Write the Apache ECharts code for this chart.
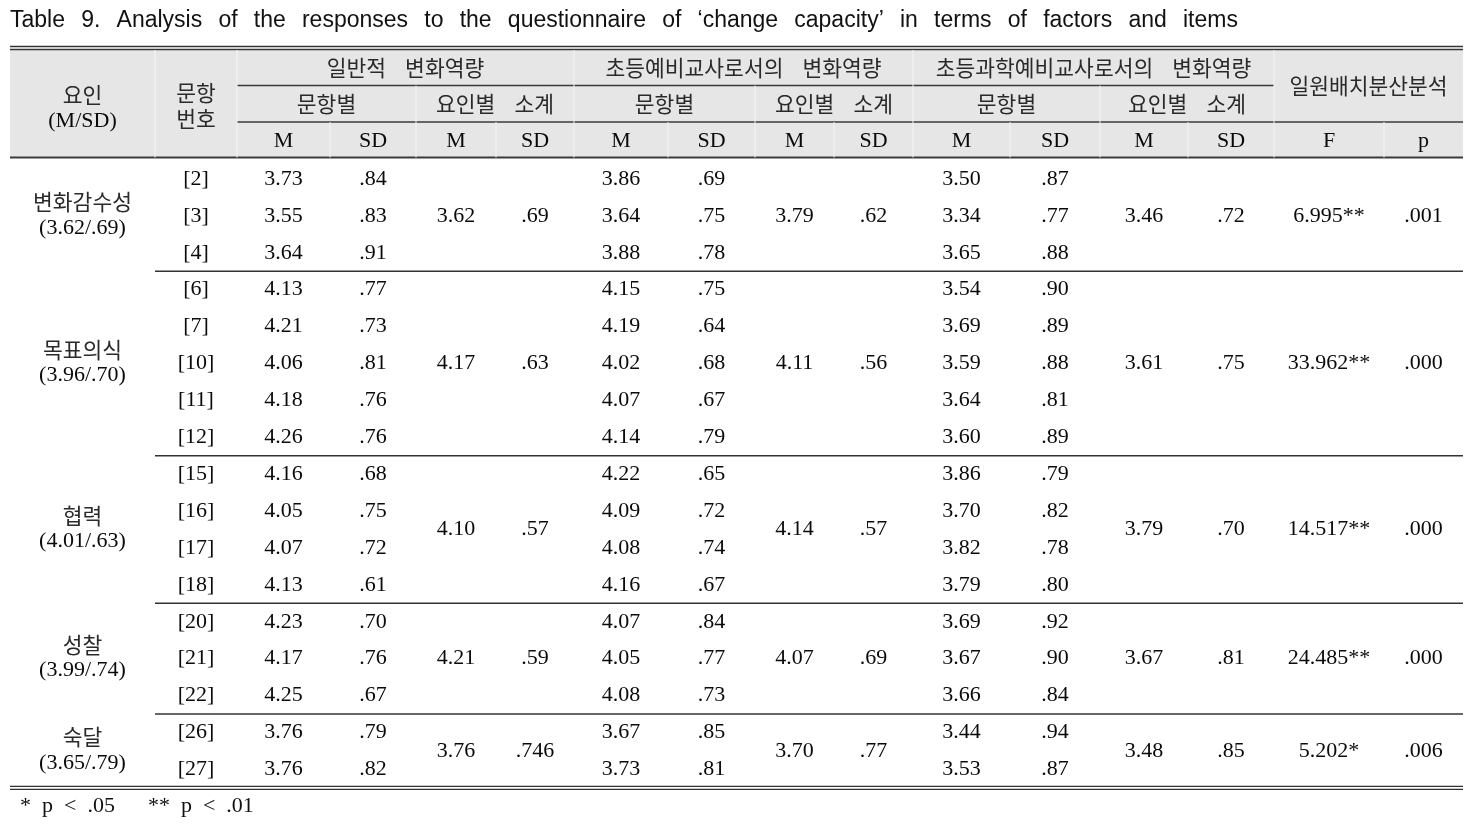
<!DOCTYPE html>
<html><head><meta charset="utf-8">
<script src="https://cdn.jsdelivr.net/npm/echarts@6/dist/echarts.min.js"></script>
<style>html,body{margin:0;padding:0;background:#fff}#c{width:1483px;height:826px}</style>
</head><body><div id="c"></div>
<script>
// ---------------- DATA ----------------
const titleText = 'Table 9. Analysis of the responses to the questionnaire of ‘change capacity’ in terms of factors and items';
const footnote = '*  p  <  .05      **  p  <  .01';
const factors = ['변화감수성', '목표의식', '협력', '성찰', '숙달'];
const factorStats = ['(3.62/.69)', '(3.96/.70)', '(4.01/.63)', '(3.99/.74)', '(3.65/.79)'];
const groupSize = [3, 5, 4, 3, 2];
const itemNo = ['[2]','[3]','[4]','[6]','[7]','[10]','[11]','[12]','[15]','[16]','[17]','[18]','[20]','[21]','[22]','[26]','[27]'];
const genM  = ['3.73','3.55','3.64','4.13','4.21','4.06','4.18','4.26','4.16','4.05','4.07','4.13','4.23','4.17','4.25','3.76','3.76'];
const genSD = ['.84','.83','.91','.77','.73','.81','.76','.76','.68','.75','.72','.61','.70','.76','.67','.79','.82'];
const genSubM  = ['3.62','4.17','4.10','4.21','3.76'];
const genSubSD = ['.69','.63','.57','.59','.746'];
const preM  = ['3.86','3.64','3.88','4.15','4.19','4.02','4.07','4.14','4.22','4.09','4.08','4.16','4.07','4.05','4.08','3.67','3.73'];
const preSD = ['.69','.75','.78','.75','.64','.68','.67','.79','.65','.72','.74','.67','.84','.77','.73','.85','.81'];
const preSubM  = ['3.79','4.11','4.14','4.07','3.70'];
const preSubSD = ['.62','.56','.57','.69','.77'];
const sciM  = ['3.50','3.34','3.65','3.54','3.69','3.59','3.64','3.60','3.86','3.70','3.82','3.79','3.69','3.67','3.66','3.44','3.53'];
const sciSD = ['.87','.77','.88','.90','.89','.88','.81','.89','.79','.82','.78','.80','.92','.90','.84','.94','.87'];
const sciSubM  = ['3.46','3.61','3.79','3.67','3.48'];
const sciSubSD = ['.72','.75','.70','.81','.85'];
const anovaF = ['6.995**','33.962**','14.517**','24.485**','5.202*'];
const anovaP = ['.001','.000','.000','.000','.006'];
// header labels
const hdrFactor = ['요인', '(M/SD)'];
const hdrItem = ['문항', '번호'];
const hdrGroups = ['일반적 변화역량', '초등예비교사로서의 변화역량', '초등과학예비교사로서의 변화역량'];
const hdrAnova = '일원배치분산분석';
const hdrSub = ['문항별', '요인별 소계'];
const hdrStat = ['M', 'SD'];
const hdrFp = ['F', 'p'];

// ---------------- LAYOUT ----------------
const W = 1483, H = 826;
const colEdges = [10,155,237,330,416,496,574,668,755,834,913,1010,1100,1188,1274,1384,1463];
const hdrY = [50, 85.5, 122, 157.5];
const bodyTop = 160.5, rowH = 36.9;
const rowY = i => bodyTop + rowH * i;
const fSerif = '"Liberation Serif","Times New Roman",serif';
const fKr = '"Noto Sans CJK KR","Noto Sans CJK SC",sans-serif';
const fSans = '"Liberation Sans",Arial,sans-serif';
const numSize = 22, krSize = 21.5;
const ink = '#0a0a0a', krInk = '#2a2a2a';
const spaced = t => t.split(' ').join('{g| }');

const cells = [];
function cell(c0, c1, y0, y1, text, kind, dy) {
  cells.push({x: (colEdges[c0] + colEdges[c1]) / 2, y: (y0 + y1) / 2 + (dy || 0), text, kind});
}
// header
cell(0, 1, hdrY[0], hdrY[3], `{k|${hdrFactor[0]}}\n{n|${hdrFactor[1]}}`, 'rich', 4);
cell(1, 2, hdrY[0], hdrY[3], `{k|${hdrItem[0]}}\n{k|${hdrItem[1]}}`, 'rich', 2);
hdrGroups.forEach((g, gi) => {
  const base = 2 + gi * 4;
  cell(base, base + 4, hdrY[0], hdrY[1], g, 'kr');
  hdrSub.forEach((s, si) => {
    cell(base + si * 2, base + si * 2 + 2, hdrY[1], hdrY[2], s, 'kr');
    hdrStat.forEach((m, mi) => cell(base + si * 2 + mi, base + si * 2 + mi + 1, hdrY[2], hdrY[3], m, 'num', 1));
  });
});
cell(14, 16, hdrY[0], hdrY[2], hdrAnova, 'kr');
hdrFp.forEach((t, i) => cell(14 + i, 15 + i, hdrY[2], hdrY[3], t, 'num', 1));
// body
let r = 0;
const groupStarts = [];
factors.forEach((f, g) => {
  const s = r, e = r + groupSize[g];
  groupStarts.push(s);
  cell(0, 1, rowY(s), rowY(e), `{k|${f}}\n{n|${factorStats[g]}}`, 'rich', -1);
  for (let i = s; i < e; i++) {
    cell(1, 2, rowY(i), rowY(i + 1), itemNo[i], 'num');
    cell(2, 3, rowY(i), rowY(i + 1), genM[i], 'num');
    cell(3, 4, rowY(i), rowY(i + 1), genSD[i], 'num');
    cell(6, 7, rowY(i), rowY(i + 1), preM[i], 'num');
    cell(7, 8, rowY(i), rowY(i + 1), preSD[i], 'num');
    cell(10, 11, rowY(i), rowY(i + 1), sciM[i], 'num');
    cell(11, 12, rowY(i), rowY(i + 1), sciSD[i], 'num');
  }
  [[4, genSubM], [5, genSubSD], [8, preSubM], [9, preSubSD], [12, sciSubM], [13, sciSubSD], [14, anovaF], [15, anovaP]]
    .forEach(([c, arr]) => cell(c, c + 1, rowY(s), rowY(e), arr[g], 'num'));
  r = e;
});
const nRows = r;

// lines [x0,y0,x1,y1,color,width]
const L = colEdges[0], R = colEdges[colEdges.length - 1];
const lines = [];
lines.push([L, 46.5, R, 46.5, '#333', 1.3]);
lines.push([L, 49.5, R, 49.5, '#333', 1.3]);
lines.push([colEdges[2], hdrY[1], colEdges[14], hdrY[1], '#3a3a3a', 1.5]);
lines.push([colEdges[2], hdrY[2], R, hdrY[2], '#3a3a3a', 1.5]);
lines.push([L, hdrY[3], R, hdrY[3], '#3a3a3a', 1.8]);
[1, 2, 6, 10, 14].forEach(c => lines.push([colEdges[c], hdrY[0], colEdges[c], hdrY[3], '#f4f4f4', 1]));
[4, 8, 12].forEach(c => lines.push([colEdges[c], hdrY[1], colEdges[c], hdrY[3], '#f4f4f4', 1]));
[3, 5, 7, 9, 11, 13, 15].forEach(c => lines.push([colEdges[c], hdrY[2], colEdges[c], hdrY[3], '#f4f4f4', 1]));
groupStarts.slice(1).forEach(s => lines.push([colEdges[1], rowY(s), R, rowY(s), '#333', 1.5]));
const bottom = rowY(nRows);
lines.push([L, bottom - 1.5, R, bottom - 1.5, '#333', 1.3]);
lines.push([L, bottom + 1.5, R, bottom + 1.5, '#333', 1.3]);

const chart = echarts.init(document.getElementById('c'), null, {renderer: 'canvas'});
chart.setOption({
  animation: false,
  backgroundColor: '#fff',
  grid: {left: 0, right: 0, top: 0, bottom: 0},
  xAxis: {type: 'value', min: 0, max: W, show: false},
  yAxis: {type: 'value', min: 0, max: H, inverse: true, show: false},
  series: [
    {
      type: 'custom', clip: false, silent: true,
      data: [[L, hdrY[0], R, hdrY[3]]],
      renderItem: (p, api) => {
        const a = api.coord([api.value(0), api.value(1)]);
        const b = api.coord([api.value(2), api.value(3)]);
        return {type: 'rect', shape: {x: a[0], y: a[1], width: b[0] - a[0], height: b[1] - a[1]}, style: {fill: '#e6e6e6'}};
      }
    },
    {
      type: 'custom', clip: false, silent: true,
      data: lines.map(l => l.slice(0, 4)),
      renderItem: (p, api) => {
        const l = lines[p.dataIndex];
        const a = api.coord([l[0], l[1]]);
        const b = api.coord([l[2], l[3]]);
        return {type: 'line', shape: {x1: a[0], y1: a[1], x2: b[0], y2: b[1]}, style: {stroke: l[4], lineWidth: l[5]}};
      }
    },
    {
      type: 'custom', clip: false, silent: true,
      data: cells.map(c => [c.x, c.y]),
      renderItem: (p, api) => {
        const c = cells[p.dataIndex];
        const pt = api.coord([api.value(0), api.value(1)]);
        const style = {text: c.text, x: pt[0], y: pt[1], align: 'center', verticalAlign: 'middle', fill: ink};
        if (c.kind === 'num') { style.fontFamily = fSerif; style.fontSize = numSize; }
        else if (c.kind === 'kr') {
          style.text = spaced(c.text);
          style.fontFamily = fKr; style.fontSize = krSize; style.fill = krInk;
          style.rich = {g: {width: 19, fontFamily: fKr, fontSize: krSize}};
        } else {
          style.rich = {
            k: {fontFamily: fKr, fontSize: krSize, lineHeight: 26, fill: krInk, align: 'center'},
            n: {fontFamily: fSerif, fontSize: numSize, lineHeight: 26, fill: ink, align: 'center'}
          };
        }
        return {type: 'text', style};
      }
    },
    {
      type: 'custom', clip: false, silent: true,
      data: [[10, 20.5], [20, 806]],
      renderItem: (p, api) => {
        const pt = api.coord([api.value(0), api.value(1)]);
        const isTitle = p.dataIndex === 0;
        const style = {
          text: isTitle ? titleText.split(' ').join('{s| }') : footnote, x: pt[0], y: pt[1], align: 'left', verticalAlign: 'middle',
          fontFamily: isTitle ? fSans : fSerif, fontSize: isTitle ? 23 : numSize, fill: '#111'
        };
        if (isTitle) style.rich = {s: {width: 16.2, fontFamily: fSans, fontSize: 23}};
        return {type: 'text', style};
      }
    }
  ]
});
</script></body></html>
